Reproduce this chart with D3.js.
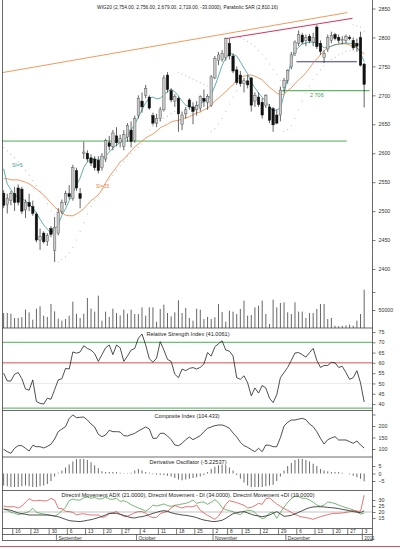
<!DOCTYPE html>
<html><head><meta charset="utf-8">
<script src="https://cdn.jsdelivr.net/npm/d3@7"></script>
<style>body{margin:0;background:#fff}svg{display:block;font-family:"Liberation Sans",Arial,sans-serif}</style>
</head><body><svg id="c" width="400" height="549"></svg>
<script>
// ---------------- DATA ----------------
const dates = ["2010-08-11","2010-08-12","2010-08-13","2010-08-16","2010-08-17","2010-08-18","2010-08-19","2010-08-20","2010-08-23","2010-08-24",
"2010-08-25","2010-08-26","2010-08-27","2010-08-30","2010-08-31","2010-09-01","2010-09-02","2010-09-03","2010-09-06","2010-09-07",
"2010-09-08","2010-09-09","2010-09-10","2010-09-13","2010-09-14","2010-09-15","2010-09-16","2010-09-17","2010-09-20","2010-09-21",
"2010-09-22","2010-09-23","2010-09-24","2010-09-27","2010-09-28","2010-09-29","2010-09-30","2010-10-01","2010-10-04","2010-10-05",
"2010-10-06","2010-10-07","2010-10-08","2010-10-11","2010-10-12","2010-10-13","2010-10-14","2010-10-15","2010-10-18","2010-10-19",
"2010-10-20","2010-10-21","2010-10-22","2010-10-25","2010-10-26","2010-10-27","2010-10-28","2010-10-29","2010-11-02","2010-11-03",
"2010-11-04","2010-11-05","2010-11-08","2010-11-09","2010-11-10","2010-11-12","2010-11-15","2010-11-16","2010-11-17","2010-11-18",
"2010-11-19","2010-11-22","2010-11-23","2010-11-24","2010-11-25","2010-11-26","2010-11-29","2010-11-30","2010-12-01","2010-12-02",
"2010-12-03","2010-12-06","2010-12-07","2010-12-08","2010-12-09","2010-12-10","2010-12-13","2010-12-14","2010-12-15","2010-12-16",
"2010-12-17","2010-12-20","2010-12-21","2010-12-22","2010-12-23","2010-12-27","2010-12-28","2010-12-29","2010-12-30","2011-01-03"];

const open = [2531,2512,2518,2530,2540,2538,2502,2515,2508,2495,2450,2462,2448,2470,2432,2462,2500,2515,2530,2522,
2570,2530,2600,2600,2592,2590,2588,2575,2590,2618,2612,2630,2618,2612,2628,2640,2622,2665,2690,2700,
2697,2665,2652,2660,2675,2735,2708,2690,2695,2650,2668,2692,2680,2675,2678,2695,2688,2683,2730,2760,
2762,2765,2790,2768,2744,2735,2720,2725,2730,2690,2697,2688,2683,2680,2677,2666,2666,2714,2726,2749,
2773,2790,2804,2795,2802,2792,2818,2790,2765,2780,2795,2805,2800,2795,2795,2800,2795,2790,2800,2754];
const high = [2536,2530,2535,2542,2546,2542,2520,2530,2518,2498,2470,2465,2462,2474,2490,2505,2520,2535,2545,2580,
2575,2540,2620,2605,2598,2595,2595,2600,2625,2630,2640,2645,2632,2640,2652,2655,2665,2700,2705,2718,
2700,2670,2668,2680,2735,2740,2712,2702,2698,2672,2680,2695,2688,2690,2700,2710,2702,2735,2768,2775,
2778,2800,2798,2772,2750,2742,2730,2735,2732,2705,2705,2695,2702,2685,2680,2675,2715,2730,2745,2775,
2795,2812,2808,2805,2806,2808,2822,2795,2778,2805,2810,2808,2805,2802,2805,2804,2800,2798,2810,2756];
const low = [2505,2496,2510,2500,2510,2495,2488,2500,2492,2446,2433,2444,2440,2455,2412,2458,2495,2510,2520,2518,
2535,2505,2590,2585,2578,2570,2565,2570,2585,2605,2605,2612,2610,2605,2620,2610,2618,2660,2670,2695,
2675,2648,2645,2655,2672,2705,2688,2680,2637,2640,2660,2675,2650,2665,2672,2680,2675,2680,2728,2752,
2758,2760,2762,2738,2718,2715,2705,2712,2672,2680,2680,2660,2678,2652,2637,2650,2655,2705,2720,2745,
2768,2785,2788,2785,2790,2785,2780,2770,2756,2775,2790,2795,2790,2788,2790,2795,2778,2775,2750,2679];
const close = [2510,2522,2530,2515,2515,2500,2515,2508,2496,2450,2456,2447,2458,2460,2472,2498,2515,2530,2525,2575,
2540,2522,2602,2590,2583,2575,2570,2595,2622,2612,2635,2618,2625,2632,2648,2620,2660,2695,2680,2712,
2678,2652,2660,2675,2730,2710,2692,2698,2668,2666,2675,2680,2672,2682,2698,2690,2698,2732,2764,2770,
2772,2798,2768,2742,2722,2720,2725,2718,2683,2700,2684,2666,2700,2657,2649,2652,2709,2726,2743,2770,
2792,2805,2792,2800,2794,2800,2784,2776,2772,2800,2803,2798,2795,2796,2802,2798,2782,2785,2752,2719];

const ma5 = [2573,2547,2537,2528,2524,2521,2518,2512,2506,2497,2486,2476,2469,2462,2469,2476,2493,2504,2518,2531,
2545,2557,2575,2585,2590,2590,2588,2592,2595,2602,2609,2614,2619,2623,2628,2640,2650,2662,2675,2687,
2695,2697,2694,2695,2701,2706,2711,2706,2699,2690,2683,2680,2678,2681,2685,2689,2692,2701,2716,2733,
2752,2764,2773,2771,2768,2758,2747,2737,2723,2713,2704,2697,2689,2681,2673,2675,2678,2701,2732,2761,
2777,2783,2789,2790,2792,2792,2790,2787,2782,2783,2785,2788,2788,2790,2790,2790,2789,2783,2773,2758];
const ma15 = [2556,2556,2554,2554,2554,2552,2550,2547,2543,2538,2533,2528,2521,2514,2507,2502,2497,2493,2492,2492,
2495,2499,2504,2511,2518,2523,2528,2537,2549,2559,2568,2576,2585,2590,2597,2604,2611,2616,2621,2626,
2630,2633,2638,2644,2647,2650,2654,2656,2657,2659,2661,2663,2666,2670,2671,2675,2678,2683,2690,2695,
2701,2706,2713,2718,2727,2732,2733,2735,2735,2733,2730,2727,2720,2714,2709,2704,2701,2702,2708,2713,
2720,2727,2732,2739,2747,2756,2763,2770,2777,2782,2785,2787,2789,2789,2789,2787,2785,2782,2777,2771];
const sar = [2610,2604,2598,2592,2585,2578,2570,2562,2553,2544,2534,2524,2513,2500,2495,2412,2416,2421,2428,2437,
2450,2465,2480,2495,2508,2519,2529,2538,2546,2554,2562,2570,2578,2586,2595,2600,2605,2610,2616,2628,
2640,2646,2651,2656,2660,2664,2668,2672,2740,2737,2734,2731,2728,2725,2722,2719,2716,2637,2642,2650,
2660,2672,2685,2697,2708,2800,2797,2793,2789,2784,2778,2771,2763,2754,2745,2736,2726,2637,2641,2648,
2660,2675,2690,2704,2716,2727,2736,2744,2751,2757,2762,2766,2770,2773,2776,2778,2822,2820,2818,2810];

const volume = [41700,41700,39800,27800,27800,30000,50900,43500,23100,53700,60200,34300,30600,66700,46300,25900,20400,25000,34300,73200,
39800,27800,39800,83300,53700,45400,89800,20400,45400,30600,53700,41700,35000,50900,39800,50900,38900,38900,57400,34300,
57400,57400,17600,52800,64800,41700,32400,43500,76900,41700,55600,27800,20400,53700,50900,25000,30600,25000,30000,66700,
44400,17600,48200,45400,38900,52800,75900,34300,36100,57400,62000,75900,38900,11100,78700,57400,69500,71300,43500,38900,
71300,45400,45400,27800,41700,41700,52800,66700,66700,25000,27800,6500,5000,6000,7400,9300,6500,20400,38900,106500];

const rsi = [55,51.2,51.2,54.5,55.3,52.3,47.3,46.7,51.7,41.2,40.3,40,42.8,42.3,47,51.7,52.3,57.3,57,65.3,
64.7,65.3,68.3,67,66.2,64.5,60.7,64,67.3,68.7,64,68.7,67.3,60.7,63.3,66.2,67,72,74,68.7,
62,60.3,62.3,70.3,66.2,61.7,60.7,54.5,52.8,57,56.2,57.3,57.7,57,57.8,59.5,65,63.3,67.8,69.3,
70.7,66.2,65.7,63.3,52.8,52,53.7,50.3,44,47.8,45.3,49,47.8,42.8,40.7,44.5,52.8,55.3,57.8,61.2,
64.8,65,64,62.8,65,67,61.2,57.8,58.7,58.7,60.3,60,57.8,58.3,55.3,52,52.8,56.2,50.3,41];
const composite = [98.6,88.4,81.2,103,114.5,114.5,103,91.3,116,110,110,104.4,111.6,120.3,143.5,175.4,187,197,233.3,247.8,
236.2,237.7,239,226,208.7,195.7,163.8,153.6,160.9,181.2,175.4,175.4,174,158,156.5,162.3,168.1,178.3,187,195.7,
187,146.4,146.4,168.1,168.1,156.5,140.6,117.4,114.5,124.7,140.6,152.2,140.6,149.3,158,175.4,189.9,195.7,201.5,204.4,
204.4,198.6,189.9,169.6,152.2,129,114.5,107.3,97.1,88.4,103,88.4,117.4,116,110,110,149.3,200,216,226,
226,230,233.3,227.5,208.7,197,175.4,146.4,121.8,140.6,147.8,153.6,139.2,139.2,139.2,132,124.7,134.8,117.4,104.4];
const derivOsc = [-8,-8.5,-9,-9,-9,-8.5,-8,-8.5,-9,-9,-8.5,-8,-7,-5,-2,0.5,2,4,6,8,
9.5,9.7,9.7,9,7.5,5.5,3.5,1.5,1,1,1,1,0.5,0.3,-0.3,0.5,2,3,2,1,
0.5,-0.5,-0.8,-1,-1,-1.5,-2,-3,-4,-4.5,-4,-3.5,-3,-2.5,-2,-1,1,3,4.5,5.5,
6,5.5,4,2,-1,-3.5,-6,-8,-9,-9,-9,-9,-8.5,-8,-7.5,-5,-2,2,5,7,
9,9.7,9.7,9,8,6.5,5,3,2,1.5,1,1,1,0.5,0,-0.5,-1.5,-2.5,-3.5,-5.2];
const adx = [22.5,22,21.4,20.3,19.2,18.6,18.1,17.5,17.5,17.5,17.5,17.5,17.5,17.2,16.7,16.1,15,13.9,12.8,12.5,
12.2,12,12.5,13.1,13.6,14.5,15.3,16.4,17.5,18.9,18.9,18.9,18.1,17.2,16.1,15.3,15,15.8,16.1,16.9,
17.8,18.9,19.7,20.6,21.1,20.6,19.4,18.6,18.1,17.5,17.2,16.7,16.1,15.3,14.2,13.3,12.8,12.2,12,12.5,
13.1,14.7,16.7,18.6,19.4,20,20.3,19.2,18.1,17.2,16.7,16.1,16.7,17.5,18.9,20.3,18.4,16.4,16.7,17.2,
18.4,19.7,21.1,22.5,23.6,24.2,24.4,24.4,24.2,23.9,23.6,23.3,22.8,22.2,21.7,21.1,20.3,20,19.4,21];
const plusDI = [22.5,21.4,19.7,18.9,17.8,18.6,19.4,20.3,23.1,19.7,18.9,18.3,17.8,17.2,16.4,18.3,21.1,23.9,29.4,30.8,
30,30,31.7,32.5,31.4,32.2,30.8,31.1,32.5,30.8,30.6,31.4,28.9,29.4,28.1,26.1,24.7,23.3,22.2,20.6,
22.8,25.8,25,25.8,26.7,25.3,24.7,25.6,26.1,26.7,27.2,28.3,30,27.2,28.1,28.3,26.4,28.1,30.3,27.8,
23.6,22,21.1,20.3,18.6,17.8,20.3,21.4,21.4,19.7,16.4,14.4,15.6,19.2,20,14.7,19.7,23.9,28.1,31.1,
33.3,32.8,31.4,31.4,30,28.1,25.8,24.7,25.8,28.3,27.8,27,25.8,24.7,23.6,22.8,21.7,20,18.3,19];
const minusDI = [25,24.4,24.4,24.4,23.3,25,28.1,31.1,29.4,29.4,29.7,29.2,29.4,31.4,30,23.1,22.8,20.6,20.3,19.7,
17.5,18.3,18.6,17.8,17.5,17.5,17.5,15.6,16.1,18.6,19.4,20.3,18.1,16.4,16.7,17.8,19.4,20.3,20.3,18.9,
16.4,15.3,15.6,18.6,19.7,20.6,23.3,25.3,24.4,23.3,24.4,24.4,24.4,25.8,21.4,19.2,17.2,15.6,13.9,16.7,
21.1,26.4,29.4,28.6,27.8,26.7,25.6,23.3,23.9,25.3,27.2,26.4,31.1,31.7,29.2,26.7,24.7,22.8,21.4,19.7,
18.1,16.7,15.8,15.3,14.7,13.9,15,16.1,17,17.8,18.6,18.9,18.9,19.2,19.7,20.3,21.4,20.8,20.5,34];

const priceTicks = [2400,2450,2500,2550,2600,2650,2700,2750,2800,2850];
const volTicks = [50000,100000];
const rsiTicks = [40,45,50,55,60,65,70,75];
const compTicks = [100,150,200,250];
const doscTicks = [-5,0,5];
const dmiTicks = [15,20,25,30];
const weekTicks = [["2010-08-16","16"],["2010-08-23","23"],["2010-08-30","30"],["2010-09-06","6"],["2010-09-13","13"],["2010-09-20","20"],["2010-09-27","27"],["2010-10-04","4"],["2010-10-11","11"],["2010-10-18","18"],["2010-10-25","25"],["2010-11-02","2"],["2010-11-08","8"],["2010-11-15","15"],["2010-11-22","22"],["2010-11-29","29"],["2010-12-06","6"],["2010-12-13","13"],["2010-12-20","20"],["2010-12-27","27"],["2011-01-03","3"]];
const monthTicks = [["2010-09-01","September"],["2010-10-01","October"],["2010-11-02","November"],["2010-12-01","December"],["2011-01-03","2011"]];
// trend / level lines: [startIndex, startPrice, endIndex, endPrice]
const channelLine = [-0.6,2739,94.4,2843];
const resistLine = [61.1,2798,95.8,2833];
const blueLevel = [80.4,2758,97,2758];
const greenLevel = [76,2708,100.5,2708];
const supportLevel = [-0.6,2621,94.2,2621];
const levelLabel = "2 706";

// ---------------- LAYOUT ----------------
const svg = d3.select("#c");
const L = 2, R = 372.5;
const panels = {price:[0,280],vol:[280,328],rsi:[328,410.5],comp:[410.5,457],dosc:[457,490.5],dmi:[490.5,528]};
const x = d3.scaleBand().domain(dates).range([2.4, 2.4 + dates.length*3.63]).paddingInner(0.32).paddingOuter(0);
const step = x.step();
const cx = i => x(dates[i]) + x.bandwidth()/2;
const xi = d3.scaleLinear().domain([0, dates.length-1]).range([cx(0), cx(dates.length-1)]);

const yP = d3.scaleLinear().domain([2400,2850]).range([269,8.5]);
const yV = d3.scaleLinear().domain([0,100000]).range([328,292]);
const yR = d3.scaleLinear().domain([40,75]).range([404,332]);
const yC = d3.scaleLinear().domain([100,200]).range([449,426]);
const yD = d3.scaleLinear().domain([-5,5]).range([481,466]);
const yM = d3.scaleLinear().domain([15,30]).range([518,500]);

svg.append("rect").attr("width",400).attr("height",549).attr("fill","#fff");
const defs = svg.append("defs");
Object.entries(panels).forEach(([k,[t,b]])=>{
  defs.append("clipPath").attr("id","clip-"+k).append("rect").attr("x",L).attr("y",t).attr("width",R-L).attr("height",b-t);
});
const g = k => svg.append("g").attr("clip-path",`url(#clip-${k})`);

// --------- price panel ---------
const gp = g("price");
const lineSeg = (grp, a, color, w) => grp.append("line")
  .attr("x1",xi(a[0])).attr("y1",yP(a[1])).attr("x2",xi(a[2])).attr("y2",yP(a[3]))
  .attr("stroke",color).attr("stroke-width",w);
lineSeg(gp, channelLine, "#f39a5c", 1);
lineSeg(gp, resistLine, "#d8325a", 1);
lineSeg(gp, supportLevel, "#3aa544", 0.9);
lineSeg(gp, blueLevel, "#3a3a9c", 1);
lineSeg(gp, greenLevel, "#3aa544", 1);
gp.append("text").attr("x",xi(86)).attr("y",yP(greenLevel[1])+6.5).attr("font-size",5.5).attr("fill","#3aa544").attr("text-anchor","middle").text(levelLabel);

// SAR dots
gp.selectAll("circle.sar").data(sar).join("circle").attr("class","sar")
  .attr("cx",(d,i)=>cx(i)).attr("cy",d=>yP(d)).attr("r",0.55).attr("fill","#b8b8b8");

// moving averages
const lineGen = ys => d3.line().x((d,i)=>cx(i)).y(d=>ys(d));
gp.append("path").datum(ma15).attr("d",lineGen(yP)).attr("fill","none").attr("stroke","#f0803c").attr("stroke-width",0.8);
gp.append("path").datum(ma5).attr("d",lineGen(yP)).attr("fill","none").attr("stroke","#3c9c9c").attr("stroke-width",0.8);
gp.append("text").attr("x",12).attr("y",167).attr("font-size",5).attr("fill","#3c9c9c").text("SI=5");
gp.append("text").attr("x",96).attr("y",188).attr("font-size",5).attr("fill","#f0803c").text("SI=15");

// candles
const bw = x.bandwidth();
const candles = gp.selectAll("g.c").data(dates.map((d,i)=>i)).join("g").attr("class","c");
candles.append("line").attr("x1",i=>cx(i)).attr("x2",i=>cx(i)).attr("y1",i=>yP(high[i])).attr("y2",i=>yP(low[i]))
  .attr("stroke","#222").attr("stroke-width",0.7);
candles.append("rect").attr("x",i=>cx(i)-bw/2).attr("width",bw)
  .attr("y",i=>yP(Math.max(open[i],close[i])))
  .attr("height",i=>Math.max(0.8,Math.abs(yP(open[i])-yP(close[i]))))
  .attr("fill",i=>close[i]>=open[i]?"#c9c9c9":"#111")
  .attr("stroke",i=>close[i]>=open[i]?"#555":"#111").attr("stroke-width",0.45);

// title
svg.append("text").attr("x",97).attr("y",9).attr("font-size",5.2).attr("fill","#222")
  .attr("textLength",181).attr("lengthAdjust","spacingAndGlyphs")
  .text("WIG20 (2,754.00, 2,756.00, 2,679.00, 2,719.00, -33.0000), Parabolic SAR (2,810.16)");

// --------- volume ---------
const gv = g("vol");
gv.selectAll("line").data(volume).join("line")
  .attr("x1",(d,i)=>cx(i)).attr("x2",(d,i)=>cx(i)).attr("y1",yV(0)).attr("y2",d=>yV(d))
  .attr("stroke","#555").attr("stroke-width",0.9);

// --------- RSI ---------
const gr = g("rsi");
gr.append("line").attr("x1",L).attr("x2",R).attr("y1",yR(50)).attr("y2",yR(50)).attr("stroke","#d8d8e8").attr("stroke-width",0.6);
gr.append("line").attr("x1",L).attr("x2",R).attr("y1",yR(70)).attr("y2",yR(70)).attr("stroke","#3aa544").attr("stroke-width",0.9);
gr.append("line").attr("x1",L).attr("x2",R).attr("y1",yR(60)).attr("y2",yR(60)).attr("stroke","#d83a3a").attr("stroke-width",0.9);
gr.append("line").attr("x1",L).attr("x2",R).attr("y1",yR(38)).attr("y2",yR(38)).attr("stroke","#3aa544").attr("stroke-width",0.9);
gr.append("path").datum(rsi).attr("d",lineGen(yR)).attr("fill","none").attr("stroke","#222").attr("stroke-width",0.8);
svg.append("text").attr("x",188).attr("y",336).attr("font-size",5.2).attr("text-anchor","middle").attr("fill","#222")
  .attr("textLength",83).attr("lengthAdjust","spacingAndGlyphs").text("Relative Strength Index (41.0061)");

// --------- Composite ---------
const gc = g("comp");
gc.append("path").datum(composite).attr("d",lineGen(yC)).attr("fill","none").attr("stroke","#222").attr("stroke-width",0.8);
svg.append("text").attr("x",187).attr("y",418).attr("font-size",5.2).attr("text-anchor","middle").attr("fill","#222")
  .attr("textLength",65).attr("lengthAdjust","spacingAndGlyphs").text("Composite Index (104.433)");

// --------- Derivative oscillator ---------
const gd = g("dosc");
gd.selectAll("line").data(derivOsc).join("line")
  .attr("x1",(d,i)=>cx(i)).attr("x2",(d,i)=>cx(i)).attr("y1",yD(0)).attr("y2",d=>yD(d))
  .attr("stroke","#444").attr("stroke-width",0.8);
svg.append("text").attr("x",188).attr("y",464).attr("font-size",5.2).attr("text-anchor","middle").attr("fill","#222")
  .attr("textLength",77).attr("lengthAdjust","spacingAndGlyphs").text("Derivative Oscillator (-5.22537)");

// --------- DMI ---------
const gm = g("dmi");
gm.append("line").attr("x1",L).attr("x2",R).attr("y1",yM(20)).attr("y2",yM(20)).attr("stroke","#aaa").attr("stroke-width",0.7);
gm.append("path").datum(plusDI).attr("d",lineGen(yM)).attr("fill","none").attr("stroke","#3a9a3a").attr("stroke-width",0.7);
gm.append("path").datum(minusDI).attr("d",lineGen(yM)).attr("fill","none").attr("stroke","#e03a3a").attr("stroke-width",0.7);
gm.append("path").datum(adx).attr("d",lineGen(yM)).attr("fill","none").attr("stroke","#222").attr("stroke-width",0.8);
svg.append("text").attr("x",188).attr("y",497).attr("font-size",5.2).attr("text-anchor","middle").attr("fill","#222")
  .attr("textLength",253).attr("lengthAdjust","spacingAndGlyphs")
  .text("Directnl Movement ADX (21.0000), Directnl Movement - DI (34.0000), Directnl Movement +DI (19.0000)");

// --------- frames & separators ---------
const frame = svg.append("g").attr("stroke","#444").attr("stroke-width",0.8).attr("fill","none");
frame.append("line").attr("x1",L+0.5).attr("x2",L+0.5).attr("y1",0).attr("y2",540.5);
frame.append("line").attr("x1",R).attr("x2",R).attr("y1",0).attr("y2",540.5);
[328,410.5,457,490.5,528.5,534.5,540.5].forEach(y=>frame.append("line").attr("x1",L).attr("x2",R).attr("y1",y).attr("y2",y));

// right axes
function rightAxis(scale, ticks, fmt, showLabel){
  const a = svg.append("g").attr("transform",`translate(${R},0)`);
  a.call(d3.axisRight(scale).tickValues(ticks).tickSize(3).tickPadding(3).tickFormat((d,i)=>showLabel(d)?fmt(d):""));
  a.select(".domain").remove();
  a.selectAll("line").attr("stroke","#444").attr("stroke-width",0.7);
  a.selectAll("text").attr("font-size",5.3).attr("fill","#333").attr("font-family","Liberation Sans, Arial, sans-serif");
}
rightAxis(yP, priceTicks, d3.format("d"), ()=>true);
rightAxis(yV, volTicks, d3.format("d"), d=>d===50000);
rightAxis(yR, rsiTicks, d3.format("d"), ()=>true);
rightAxis(yC, compTicks, d3.format("d"), d=>d!==250);
rightAxis(yD, doscTicks, d3.format("d"), ()=>true);
rightAxis(yM, dmiTicks, d3.format("d"), ()=>true);

// date axis
const dax = svg.append("g");
weekTicks.forEach(([d,lab])=>{
  const xx = x(d) - 0.6;
  dax.append("line").attr("x1",xx).attr("x2",xx).attr("y1",528.5).attr("y2",534.5).attr("stroke","#444").attr("stroke-width",0.7);
  dax.append("text").attr("x",xx+2.5).attr("y",533.3).attr("font-size",4.8).attr("fill","#333").text(lab);
});
monthTicks.forEach(([d,lab])=>{
  const xx = x(d) - 0.6;
  dax.append("line").attr("x1",xx).attr("x2",xx).attr("y1",534.5).attr("y2",540.5).attr("stroke","#444").attr("stroke-width",0.7);
  dax.append("text").attr("x",xx+2).attr("y",539.5).attr("font-size",4.8).attr("fill","#333").text(lab);
});
svg.append("line").attr("x1",0).attr("x2",400).attr("y1",546.5).attr("y2",546.5).attr("stroke","#c85a5a").attr("stroke-width",1);
</script></body></html>
